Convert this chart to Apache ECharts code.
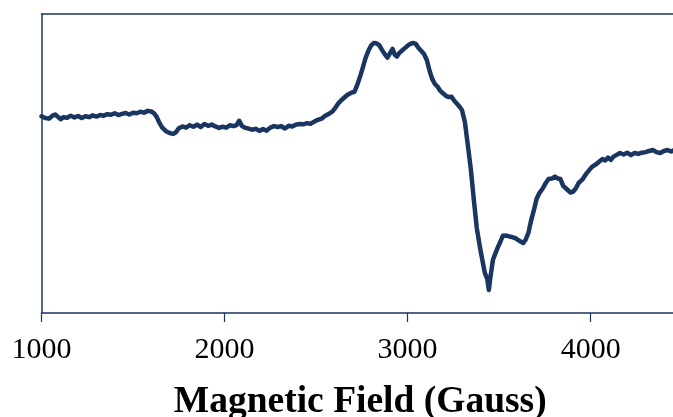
<!DOCTYPE html>
<html>
<head>
<meta charset="utf-8">
<script src="https://cdn.jsdelivr.net/npm/echarts@6/dist/echarts.min.js"></script>
<style>
  html, body { margin: 0; padding: 0; background: #fff; }
  #chart { width: 673px; height: 417px; }
</style>
</head>
<body>
<div id="chart"></div>
<script>
// EPR spectrum: magnetic field (G) against signal intensity (arbitrary units)
const fieldGauss = [
  1000, 1020, 1040, 1060, 1075, 1090, 1105, 1120, 1140, 1160, 1180, 1200, 1220, 1240, 1260, 1280,
  1300, 1320, 1340, 1360, 1380, 1400, 1420, 1440, 1460, 1480, 1500, 1520, 1540, 1560, 1580, 1600,
  1615, 1630, 1645, 1660, 1680, 1700, 1720, 1735, 1750, 1770, 1790, 1810, 1830, 1850, 1870, 1890,
  1910, 1930, 1950, 1970, 1990, 2010, 2030, 2050, 2065, 2080, 2095, 2110, 2130, 2150, 2170, 2190,
  2210, 2230, 2250, 2270, 2290, 2310, 2330, 2350, 2370, 2390, 2410, 2430, 2450, 2470, 2490, 2510,
  2530, 2550, 2570, 2590, 2605, 2620, 2635, 2650, 2670, 2690, 2710, 2725, 2740, 2755, 2770, 2785,
  2800, 2815, 2830, 2845, 2860, 2875, 2890, 2905, 2918, 2930, 2942, 2955, 2970, 2985, 3000, 3015,
  3030, 3045, 3060, 3075, 3090, 3105, 3120, 3135, 3150, 3165, 3180, 3195, 3210, 3225, 3240, 3255,
  3270, 3285, 3297, 3313, 3329, 3346, 3362, 3378, 3400, 3422, 3435, 3444, 3452, 3466, 3480, 3494,
  3508, 3520, 3540, 3555, 3570, 3590, 3605, 3620, 3632, 3645, 3660, 3675, 3690, 3705, 3720, 3740,
  3755, 3770, 3790, 3805, 3820, 3835, 3850, 3870, 3890, 3905, 3920, 3935, 3957, 3975, 3990, 4006,
  4020, 4035, 4050, 4065, 4080, 4095, 4110, 4125, 4140, 4160, 4180, 4200, 4220, 4240, 4260, 4280,
  4300, 4320, 4340, 4360, 4380, 4400, 4420, 4440, 4450
];
const intensity = [
  65.8, 65.2, 65.0, 66.0, 66.4, 65.6, 64.8, 65.5, 65.3, 66.0, 65.4, 65.9, 65.2, 65.8, 65.5, 66.1,
  65.7, 66.2, 66.0, 66.5, 66.3, 66.8, 66.2, 66.6, 66.9, 66.4, 67.0, 66.8, 67.3, 67.0, 67.6, 67.4,
  66.8, 65.5, 63.5, 62.0, 60.8, 60.2, 59.9, 60.5, 61.8, 62.4, 62.0, 62.8, 62.3, 63.0, 62.2, 63.2,
  62.6, 63.0, 62.4, 61.9, 62.3, 62.0, 62.8, 62.5, 62.8, 64.3, 62.6, 62.0, 61.7, 61.3, 61.6, 60.9,
  61.5, 61.0, 62.0, 62.5, 62.2, 62.5, 61.7, 62.6, 62.4, 63.0, 63.2, 63.1, 63.5, 63.3, 64.0, 64.6,
  65.0, 66.0, 66.6, 67.4, 68.6, 70.0, 71.0, 71.8, 72.9, 73.6, 74.0, 76.3, 79.0, 82.0, 85.2, 87.6,
  89.4, 90.3, 90.2, 89.6, 88.0, 86.6, 85.4, 87.0, 88.3, 86.4, 85.8, 87.0, 87.8, 88.6, 89.4, 90.0,
  90.3, 90.0, 88.6, 87.6, 86.6, 84.6, 81.0, 78.2, 76.5, 75.6, 74.2, 73.4, 72.6, 72.2, 72.3, 71.0,
  70.0, 68.9, 67.9, 63.9, 56.2, 47.8, 37.8, 28.4, 20.4, 13.4, 11.4, 7.7, 11.8, 17.7, 20.0, 22.1,
  24.0, 25.8, 25.9, 25.6, 25.4, 25.0, 24.4, 23.8, 23.4, 24.5, 26.8, 31.0, 34.4, 38.2, 40.1, 41.8,
  43.5, 44.8, 45.0, 45.6, 45.0, 44.8, 42.5, 41.4, 40.3, 40.6, 41.8, 43.5, 44.8, 46.5, 47.6, 48.8,
  49.4, 50.0, 50.8, 51.5, 51.0, 52.0, 51.2, 52.3, 52.8, 53.5, 53.0, 53.6, 52.8, 53.5, 53.2, 53.6,
  53.8, 54.2, 54.5, 53.8, 53.5, 54.2, 54.5, 54.0, 54.3
];
const fieldTicks = [1000, 2000, 3000, 4000];
const xTitle = 'Magnetic Field (Gauss)';

const navy = '#1a3660';
const serif = '"Liberation Serif", "Times New Roman", serif';

const chart = echarts.init(document.getElementById('chart'), null, { renderer: 'canvas' });

chart.setOption({
  animation: false,
  backgroundColor: '#ffffff',
  grid: {
    left: 41.5, top: 14, right: 0, bottom: 104,
    containLabel: false,
    outerBoundsMode: 'none'
  },
  xAxis: [
    {
      type: 'value',
      min: 1000,
      max: 4450,
      interval: 1000,
      position: 'bottom',
      axisLine: { show: true, lineStyle: { color: navy, width: 1.5 } },
      axisTick: {
        show: true,
        inside: false,
        length: 9,
        customValues: fieldTicks,
        lineStyle: { color: navy, width: 1.2 }
      },
      axisLabel: {
        show: true,
        margin: 22,
        color: '#000',
        fontFamily: serif,
        fontSize: 30,
        customValues: fieldTicks,
        formatter: v => String(v)
      },
      splitLine: { show: false },
      name: xTitle,
      nameLocation: 'middle',
      nameGap: 70,
      nameTextStyle: {
        color: '#000',
        fontFamily: serif,
        fontSize: 37.5,
        fontWeight: 'bold',
        padding: [0, 0, 0, 6]
      }
    },
    {
      type: 'value',
      min: 1000,
      max: 4450,
      position: 'top',
      axisLine: { show: true, lineStyle: { color: navy, width: 1.5 } },
      axisTick: { show: false },
      axisLabel: { show: false },
      splitLine: { show: false }
    }
  ],
  yAxis: {
    type: 'value',
    min: 0,
    max: 100,
    axisLine: { show: true, lineStyle: { color: navy, width: 1.5 } },
    axisTick: { show: false },
    axisLabel: { show: false },
    splitLine: { show: false }
  },
  series: [
    {
      type: 'line',
      xAxisIndex: 0,
      data: fieldGauss.map((f, i) => [f, intensity[i]]),
      showSymbol: false,
      smooth: false,
      clip: true,
      lineStyle: { color: navy, width: 4.5, join: 'round', cap: 'round' }
    }
  ]
});
</script>
</body>
</html>
